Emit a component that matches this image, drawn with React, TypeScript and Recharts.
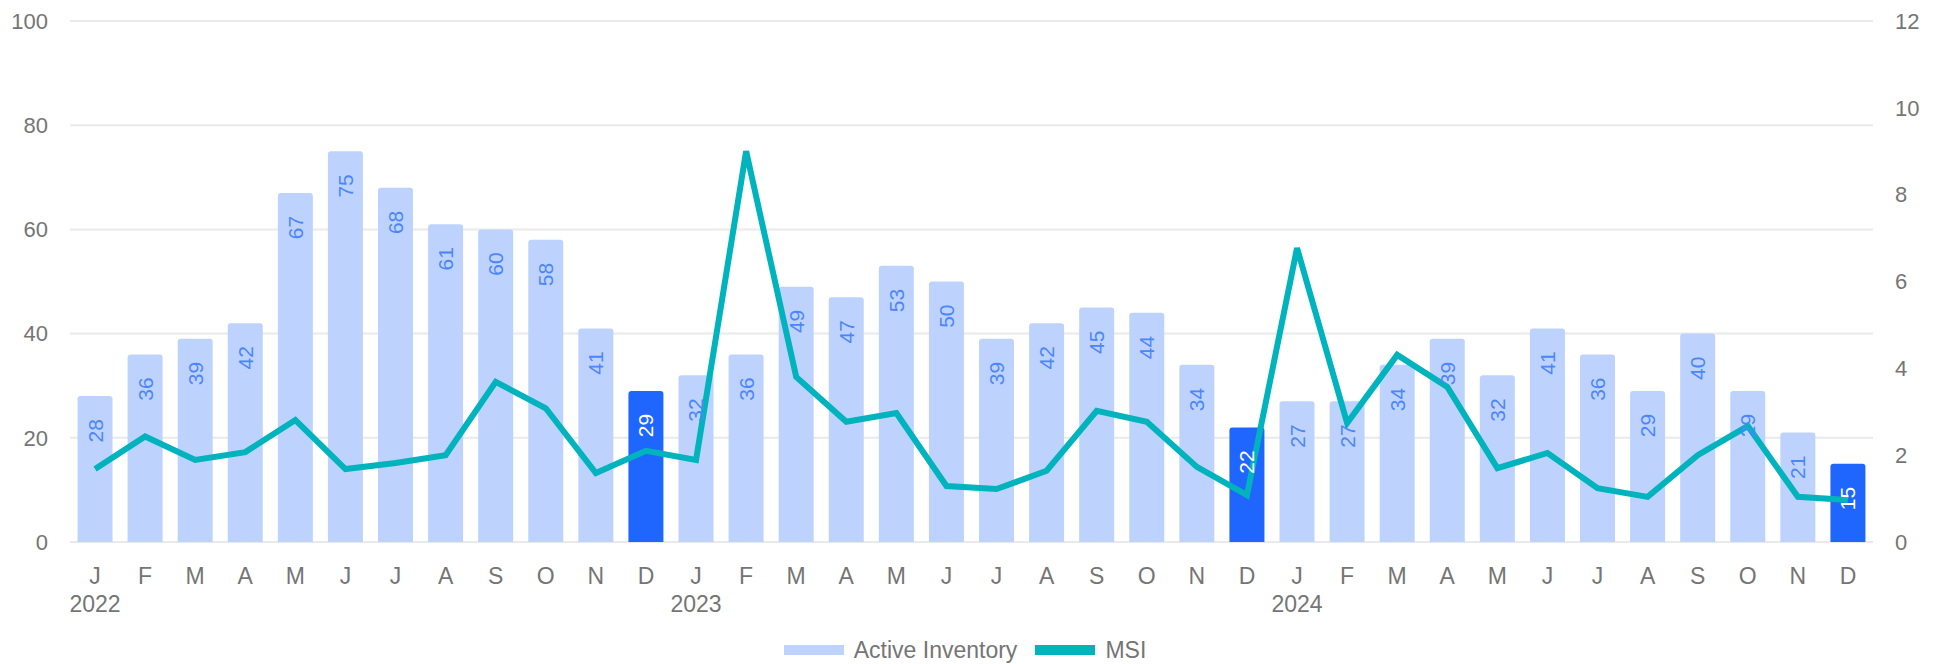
import React from "react";
import {
  ComposedChart,
  Bar,
  Line,
  XAxis,
  YAxis,
  CartesianGrid,
  Legend,
  LabelList,
  Cell,
} from "recharts";

const years = ["2022", "2023", "2024"];
const months = ["J", "F", "M", "A", "M", "J", "J", "A", "S", "O", "N", "D"];

const activeInventory = [
  28, 36, 39, 42, 67, 75, 68, 61, 60, 58, 41, 29,
  32, 36, 49, 47, 53, 50, 39, 42, 45, 44, 34, 22,
  27, 27, 34, 39, 32, 41, 36, 29, 40, 29, 21, 15,
];

const msi = [
  1.68, 2.43, 1.89, 2.07, 2.81, 1.68, 1.82, 2.0, 3.69, 3.08, 1.59, 2.1,
  1.89, 9.0, 3.8, 2.77, 2.97, 1.29, 1.22, 1.64, 3.02, 2.77, 1.73, 1.08,
  6.77, 2.74, 4.31, 3.57, 1.7, 2.05, 1.24, 1.04, 2.0, 2.67, 1.04, 0.97,
];

const leftTicks = [0, 20, 40, 60, 80, 100];
const rightTicks = [0, 2, 4, 6, 8, 10, 12];

const data = activeInventory.map((v, i) => ({
  period: `${years[Math.floor(i / 12)]}-${i % 12}`,
  month: months[i % 12],
  year: years[Math.floor(i / 12)],
  inventory: v,
  msi: msi[i],
}));

const LIGHT = "#BDD3FE";
const DARK = "#1F66FF";
const TEAL = "#00B3BD";
const TEXT = "#757575";

const MonthTick = (props: any) => {
  const { x, y, payload } = props;
  const row = data[payload.index];
  return (
    <g>
      <text x={x} y={y + 42} textAnchor="middle" fill={TEXT} fontSize={23}>
        {row.month}
      </text>
      {payload.index % 12 === 0 && (
        <text x={x} y={y + 70} textAnchor="middle" fill={TEXT} fontSize={23}>
          {row.year}
        </text>
      )}
    </g>
  );
};

const BarLabel = (props: any) => {
  const { x, y, width, value, index } = props;
  const cx = Number(x) + Number(width) / 2;
  const ty = Number(y) + 23;
  const dark = index % 12 === 11;
  return (
    <text
      x={cx}
      y={ty}
      transform={`rotate(-90 ${cx} ${ty})`}
      textAnchor="end"
      dominantBaseline="central"
      fill={dark ? "#ffffff" : "#4C86FF"}
      fontSize={21}
    >
      {value}
    </text>
  );
};

const LegendContent = () => (
  <div
    style={{
      display: "flex",
      justifyContent: "center",
      alignItems: "center",
      height: 28,
      fontSize: 23,
      color: TEXT,
      paddingRight: 14,
    }}
  >
    <span style={{ width: 60, height: 10, background: LIGHT, marginRight: 10 }} />
    <span style={{ marginRight: 18 }}>Active Inventory</span>
    <span style={{ width: 60, height: 10, background: TEAL, marginRight: 10 }} />
    <span>MSI</span>
  </div>
);

export default function App() {
  return (
    <div style={{ fontFamily: "'Liberation Sans', Arial, sans-serif" }}>
      <style>{`body{margin:0}`}</style>
      <ComposedChart
        width={1944}
        height={664}
        data={data}
        margin={{ top: 21, right: 0, bottom: 0, left: 0 }}
        barCategoryGap="15%"
      >
        <CartesianGrid yAxisId="left" vertical={false} stroke="#EAEAEA" strokeWidth={2} />
        <XAxis
          dataKey="period"
          interval={0}
          axisLine={false}
          tickLine={false}
          tickSize={0}
          tickMargin={0}
          height={94}
          tick={<MonthTick />}
        />
        <YAxis
          yAxisId="left"
          domain={[0, 100]}
          ticks={leftTicks}
          axisLine={false}
          tickLine={false}
          tickSize={0}
          tickMargin={22}
          width={70}
          tick={{ fill: TEXT, fontSize: 22 }}
        />
        <YAxis
          yAxisId="right"
          orientation="right"
          domain={[0, 12]}
          ticks={rightTicks}
          axisLine={false}
          tickLine={false}
          tickSize={0}
          tickMargin={22}
          width={71}
          tick={{ fill: TEXT, fontSize: 22 }}
        />
        <Legend verticalAlign="bottom" content={<LegendContent />} />
        <Bar
          yAxisId="left"
          dataKey="inventory"
          name="Active Inventory"
          fill={LIGHT}
          radius={[3, 3, 0, 0]}
          isAnimationActive={false}
        >
          {data.map((d, i) => (
            <Cell key={d.period} fill={i % 12 === 11 ? DARK : LIGHT} />
          ))}
          <LabelList dataKey="inventory" content={<BarLabel />} />
        </Bar>
        <Line
          yAxisId="right"
          type="linear"
          dataKey="msi"
          name="MSI"
          stroke={TEAL}
          strokeWidth={6}
          dot={false}
          activeDot={false}
          isAnimationActive={false}
        />
      </ComposedChart>
    </div>
  );
}
